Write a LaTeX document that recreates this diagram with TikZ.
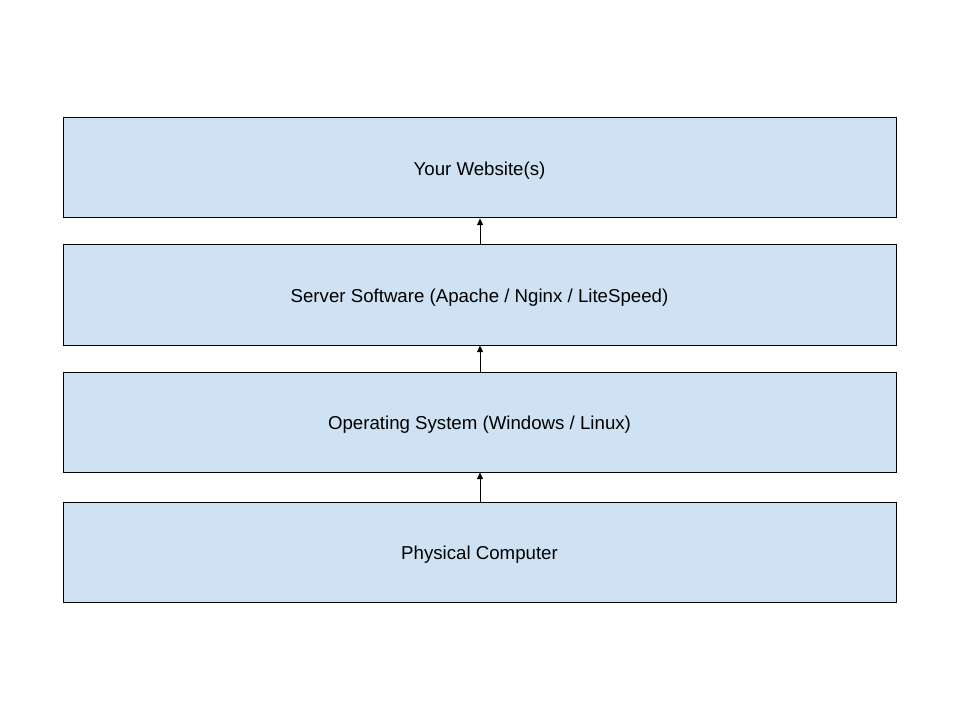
\documentclass[tikz,border=0pt]{standalone}
\usepackage{fontspec}
\setmainfont{Liberation Sans}
\usetikzlibrary{arrows.meta}
\definecolor{layerfill}{HTML}{CFE2F3}
\begin{document}
\begin{tikzpicture}[x=0.75pt,y=-0.75pt,
  layer/.style={draw=black, fill=layerfill, line width=0.75pt, minimum width=833*0.75pt, minimum height=100*0.75pt, inner sep=0pt, text height=11.4pt, text depth=0pt, font=\fontsize{14pt}{16pt}\selectfont},
  conn/.style={draw=black, line width=0.75pt, -{Triangle[length=5pt,width=4.5pt]}}]
\useasboundingbox (0,0) rectangle (960,720);
\node[layer] (web) at (479.5,168) {Your Website(s)};
\node[layer] (srv) at (479.5,295) {Server Software (Apache / Nginx / LiteSpeed)};
\node[layer] (os) at (479.5,422) {Operating System (Windows / Linux)};
\node[layer] (pc) at (479.5,552) {Physical Computer};
\draw[conn] ([xshift=0.4pt]srv.north) -- ([xshift=0.4pt]web.south);
\draw[conn] ([xshift=0.4pt]os.north) -- ([xshift=0.4pt]srv.south);
\draw[conn] ([xshift=0.4pt]pc.north) -- ([xshift=0.4pt]os.south);
\end{tikzpicture}
\end{document}
